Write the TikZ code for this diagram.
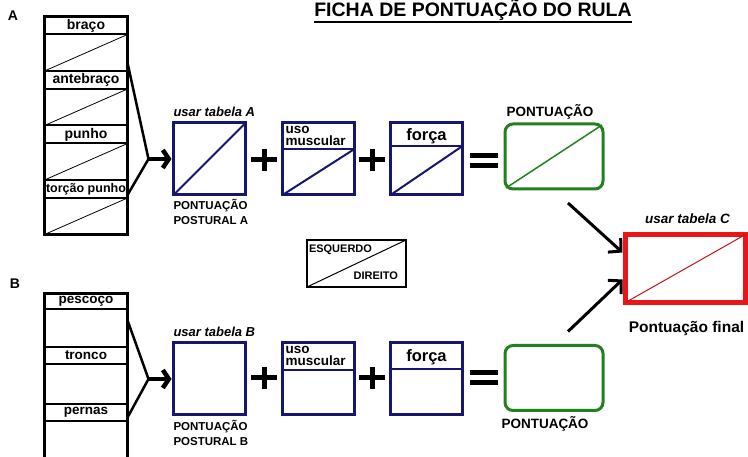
\documentclass[tikz,border=0pt]{standalone}
\usepackage{fontspec}
\setmainfont{Liberation Sans}
\usetikzlibrary{arrows.meta,calc,positioning}
\definecolor{rulanavy}{RGB}{22,22,112}
\definecolor{rulagreen}{RGB}{34,128,34}
\definecolor{rulared}{RGB}{232,22,22}
\newcommand{\fsz}[2]{\fontsize{#1}{#2}\selectfont}

\begin{document}
\begin{tikzpicture}[x=1pt,y=-1pt,font=\bfseries,
    every node/.style={align=center,inner sep=0pt,outer sep=0pt},
    stackhdr/.style={draw,line width=2pt,minimum width=83pt,minimum height=#1},
    stackcell/.style={draw,line width=2pt,minimum width=83pt,minimum height=#1},
    stackframe/.style={line width=3pt},
    scorebox/.style={draw=rulanavy,line width=3pt,minimum width=72pt,minimum height=72pt},
    resultbox/.style={draw=rulagreen,line width=3pt,rounded corners=8pt,minimum width=98pt,minimum height=65pt},
    finalbox/.style={draw=rulared,line width=5pt,minimum width=120pt,minimum height=68pt},
    navyline/.style={rulanavy,line width=2pt},
    diagline/.style={line width=0.8pt},
    tabnote/.style={font=\bfseries\itshape\fsz{13}{13}},
    undernote/.style={font=\bfseries\fsz{11.5}{15},align=left},
    musclenote/.style={font=\bfseries\fsz{13.5}{12},align=left},
    forcenote/.style={font=\bfseries\fsz{16.5}{16.5}},
    sidenote/.style={font=\bfseries\fsz{11}{11}},
    opsign/.style={line width=5pt},
    bracketline/.style={line width=2.5pt},
    stackarrow/.style={line width=4.5pt,-{Straight Barb[length=6pt,width=18pt]}},
    bigarrow/.style={line width=3pt,-{Straight Barb[length=9pt,width=19pt]}}]
  \useasboundingbox (0,0) rectangle (748,457);

  % title
  \node[font=\bfseries\fsz{19.5}{19.5},anchor=base] (title) at (473,17) {FICHA DE PONTUAÇÃO DO RULA};
  \draw[line width=2pt] ([yshift=-5pt]title.base west) -- ([yshift=-5pt]title.base east);

  % group A
  \node[font=\bfseries\fsz{14}{14}] (labA) at (13,16) {A};
  \foreach \nm/\txt/\yy/\fs in {braco/braço/16.5/14,antebraco/antebraço/71/14,punho/punho/125.5/14,torcao/torção punho/180/12.5}{
    \node[stackhdr=18pt,anchor=north,font=\bfseries\fsz{\fs}{\fs}] (\nm) at (86,\yy) {\txt};
    \node[stackcell=36.5pt,anchor=north] (\nm-c) at (\nm.south) {};
    \draw[diagline] (\nm-c.south west) -- (\nm-c.north east);
  }
  \draw[stackframe] (braco.north west) rectangle (torcao-c.south east);

  % group B
  \node[font=\bfseries\fsz{14}{14}] (labB) at (15,284) {B};
  \foreach \nm/\txt/\yy/\hh/\ch in {pescoco/pescoço/293.5/16pt/37.5pt,tronco/tronco/347/17pt/40pt,pernas/pernas/404/17pt/40pt}{
    \node[stackhdr=\hh,anchor=north,font=\bfseries\fsz{13.5}{13.5}] (\nm) at (86,\yy) {\txt};
    \node[stackcell=\ch,anchor=north] (\nm-c) at (\nm.south) {};
  }
  \draw[stackframe] (pescoco.north west) rectangle (pernas-c.south east);

  % row A
  \node[scorebox] (tabA) at (209.5,159) {};
  \draw[navyline] (tabA.south west) -- (tabA.north east);
  \node[tabnote,anchor=south west] (noteA) at ([yshift=6pt]tabA.north west) {usar tabela A};
  \node[undernote,anchor=north west] (postA) at ([yshift=-4pt]tabA.south west) {PONTUAÇÃO\\POSTURAL A};

  \node[scorebox] (usoA) at (318.5,159) {};
  \coordinate (usoA-w) at ([yshift=-26pt]usoA.north west);
  \coordinate (usoA-e) at ([yshift=-26pt]usoA.north east);
  \draw[navyline] (usoA-w) -- (usoA-e);
  \draw[navyline] (usoA.south west) -- (usoA-e);
  \node[musclenote,anchor=north west] (usoA-txt) at ([shift={(3pt,-3pt)}]usoA.north west) {uso\\muscular};

  \node[scorebox] (forcaA) at (426.5,159) {};
  \coordinate (forcaA-w) at ([yshift=-23pt]forcaA.north west);
  \coordinate (forcaA-e) at ([yshift=-23pt]forcaA.north east);
  \draw[navyline] (forcaA-w) -- (forcaA-e);
  \draw[navyline] (forcaA.south west) -- (forcaA-e);
  \node[forcenote,anchor=base] (forcaA-txt) at ([yshift=-18pt]forcaA.north) {força};

  \node[resultbox] (resA) at (554,156.5) {};
  \draw[rulagreen,line width=1.5pt] ([shift={(1pt,1pt)}]resA.south west) -- ([shift={(-1pt,-1pt)}]resA.north east);
  \node[font=\bfseries\fsz{13.5}{13.5},anchor=south] (resA-txt) at ([shift={(-4pt,5pt)}]resA.north) {PONTUAÇÃO};

  % row B
  \node[scorebox] (tabB) at (209.5,379) {};
  \node[tabnote,anchor=south west] (noteB) at ([yshift=6pt]tabB.north west) {usar tabela B};
  \node[undernote,anchor=north west] (postB) at ([yshift=-5pt]tabB.south west) {PONTUAÇÃO\\POSTURAL B};

  \node[scorebox] (usoB) at (318.5,379) {};
  \draw[navyline] ([yshift=-27pt]usoB.north west) -- ([yshift=-27pt]usoB.north east);
  \node[musclenote,anchor=north west] (usoB-txt) at ([shift={(3pt,-3pt)}]usoB.north west) {uso\\muscular};

  \node[scorebox] (forcaB) at (426.5,379) {};
  \draw[navyline] ([yshift=-26pt]forcaB.north west) -- ([yshift=-26pt]forcaB.north east);
  \node[forcenote,anchor=base] (forcaB-txt) at ([yshift=-19pt]forcaB.north) {força};

  \node[resultbox] (resB) at (554,378) {};
  \node[font=\bfseries\fsz{13.5}{13.5},anchor=north] (resB-txt) at ([shift={(-9pt,-6pt)}]resB.south) {PONTUAÇÃO};

  % plus and equals signs
  \foreach \px/\py in {264/160,372/160,264/378,372/378}
    \draw[opsign] (\px-13,\py) -- (\px+13,\py) (\px,\py-11) -- (\px,\py+11);
  \foreach \py in {160.5,378}
    \draw[opsign] (470,\py-5) -- (498,\py-5) (470,\py+5) -- (498,\py+5);

  % left / right key
  \node[draw,line width=2pt,minimum width=99pt,minimum height=47pt] (side) at (356.5,263.5) {};
  \draw[line width=1pt] (side.south west) -- (side.north east);
  \node[sidenote,anchor=north west] (esq) at ([shift={(2pt,-5pt)}]side.north west) {ESQUERDO};
  \node[sidenote,anchor=south east] (dir) at ([shift={(-8pt,7pt)}]side.south east) {DIREITO};

  % final score
  \node[finalbox] (final) at (685.5,268.5) {};
  \draw[rulared!85!black,line width=1pt] (final.south west) -- (final.north east);
  \node[tabnote,font=\bfseries\itshape\fsz{13.5}{13.5},anchor=south] (noteC) at ([shift={(2pt,11pt)}]final.north) {usar tabela C};
  \node[font=\bfseries\fsz{15.5}{15.5},anchor=north] (finalTxt) at ([shift={(1pt,-19pt)}]final.south) {Pontuação final};

  % brackets and arrows
  \coordinate (joinA) at ($(tabA.west)+(-25,0)$);
  \coordinate (joinB) at ($(tabB.west)+(-25,0)$);
  \draw[bracketline] ([yshift=-10pt]braco-c.east) -- (joinA) -- ([yshift=-6pt]torcao.east);
  \draw[stackarrow] (joinA) -- ([xshift=-2pt]tabA.west);
  \draw[bracketline] ([yshift=8pt]pescoco-c.east) -- (joinB) -- ([yshift=-5pt]pernas.east);
  \draw[stackarrow] (joinB) -- ([xshift=-2pt]tabB.west);
  \draw[bigarrow] ([shift={(14pt,-14pt)}]resA.south) -- ([shift={(-3pt,16pt)}]final.west);
  \draw[bigarrow] ([shift={(14pt,14pt)}]resB.north) -- ([shift={(-3pt,-11pt)}]final.west);
\end{tikzpicture}
\end{document}
